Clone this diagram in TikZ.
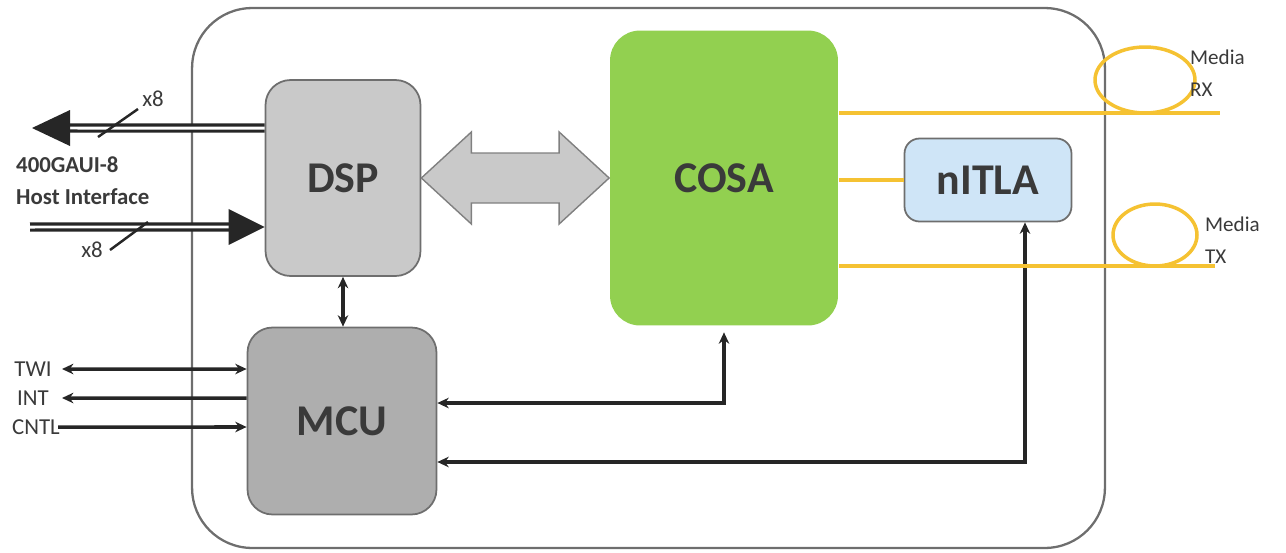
\documentclass[tikz,border=0pt]{standalone}
\usepackage{fontspec}
\setmainfont{Carlito}
\usepackage{xcolor}
\usetikzlibrary{arrows.meta,positioning,calc,shapes.geometric}

\definecolor{edgegray}{HTML}{6E6E6E}
\definecolor{dspgray}{HTML}{C9C9C9}
\definecolor{mcugray}{HTML}{AEAEAE}
\definecolor{cosagreen}{HTML}{92D050}
\definecolor{itlablue}{HTML}{CFE5F7}
\definecolor{fibergold}{HTML}{F5C232}
\definecolor{txtgray}{HTML}{3A3A3A}

\begin{document}
\begin{tikzpicture}[x=0.02cm,y=-0.02cm,
    >={Stealth[length=6.5pt,width=6pt]},
    block/.style={draw=edgegray,line width=1pt,rounded corners=0.5cm,text=txtgray,
      font=\fontsize{25}{28}\selectfont\bfseries},
    ctrl/.style={line width=2pt,draw=black!85},
    host/.style={double,double distance=1.7pt,line width=1.8pt,draw=black!85},
    fiber/.style={draw=fibergold,line width=2pt},
    small/.style={text=txtgray,font=\fontsize{13}{18}\selectfont}]
   \useasboundingbox (0,0) rectangle (1286,552);

   % module outline
   \node[draw=edgegray,line width=1.3pt,rounded corners=1.2cm,minimum width=18.26cm,minimum height=10.8cm] (module) at (648.5,278) {};

   % blocks
   \node[block,fill=dspgray,minimum width=3.1cm,minimum height=3.92cm] (DSP) at (343,178) {DSP};
   \node[block,fill=mcugray,minimum width=3.78cm,minimum height=3.74cm] (MCU) at (342,421) {MCU};
   \node[block,fill=cosagreen,draw=none,rounded corners=0.6cm,minimum width=4.56cm,minimum height=5.9cm] (COSA) at (724,178) {COSA};
   \node[block,fill=itlablue,rounded corners=0.3cm,minimum width=3.34cm,minimum height=1.66cm] (nITLA) at (988,180) {nITLA};

   % DSP <-> COSA
   \draw[draw=gray,fill=dspgray,line width=0.8pt] (DSP.east) -- ++(50,-46) -- ++(0,21)
      -- ($(COSA.west)+(-50,-25)$) -- ++(0,-21) -- (COSA.west) -- ++(-50,46) -- ++(0,-21)
      -- ($(DSP.east)+(50,25)$) -- ++(0,21) -- cycle;

   % host interface
   \coordinate (hostout) at (32,128);
   \coordinate (hostin) at (30,227);
   \draw[host] ([yshift=1cm]DSP.west) -- ([xshift=0.74cm]hostout);
   \fill[black!85] (hostout) -- ++(38,-18) -- ++(0,36) -- cycle;
   \draw[host] (hostin) -- ([xshift=-0.7cm,yshift=-0.98cm]DSP.west);
   \fill[black!85] ([yshift=-0.98cm]DSP.west) -- ++(-36,-18) -- ++(0,36) -- cycle;
   \draw[ctrl,line width=1.4pt] (98,137) -- (138,109);
   \draw[ctrl,line width=1.4pt] (148,222) -- (110,250);
   \node[small] (x8top) at (153,99) {x8};
   \node[small] (x8bot) at (92,250) {x8};
   \node[small,font=\fontsize{13}{18}\selectfont\bfseries,align=left,anchor=west] (hostlabel) at (10,181) {400GAUI-8\\Host Interface};

   % management lines
   \coordinate (twiend) at (62,369);
   \coordinate (intend) at (62,398);
   \coordinate (cntlend) at (58,427);
   \node[small] (twi) at (33,369) {TWI};
   \node[small] (int) at (33,398) {INT};
   \node[small] (cntl) at (36,427) {CNTL};
   \draw[ctrl,<->] (twiend) -- ([yshift=1.04cm]MCU.west);
   \draw[ctrl,<-] (intend) -- ([yshift=0.46cm]MCU.west);
   \draw[ctrl,->] (cntlend) -- ([yshift=-0.12cm]MCU.west);

   \draw[ctrl,<->] (DSP.south) -- (DSP.south |- MCU.north);
   \draw[ctrl,<->] ([yshift=0.36cm]MCU.east) -| ([yshift=-0.12cm]COSA.south);
   \draw[ctrl,<->] ([yshift=-0.82cm]MCU.east) -| ([xshift=0.74cm]nITLA.south);

   % fibers
   \coordinate (rxend) at (1220,113);
   \coordinate (txend) at (1215,266);
   \draw[fiber] (COSA.east |- rxend) -- (rxend);
   \draw[fiber] (COSA.east |- txend) -- (txend);
   \draw[fiber] (COSA.east |- nITLA.west) -- (nITLA.west);
   \node[fiber,ellipse,minimum width=2cm,minimum height=1.32cm] (rxloop) at (1145,80) {};
   \node[fiber,ellipse,minimum width=1.68cm,minimum height=1.24cm] (txloop) at (1155,235) {};
   \node[small,font=\fontsize{12}{18}\selectfont,align=left,anchor=north west] (rxlabel) at (1184,44) {Media\\RX};
   \node[small,font=\fontsize{12}{18}\selectfont,align=left,anchor=north west] (txlabel) at (1199,211) {Media\\TX};
\end{tikzpicture}
\end{document}
